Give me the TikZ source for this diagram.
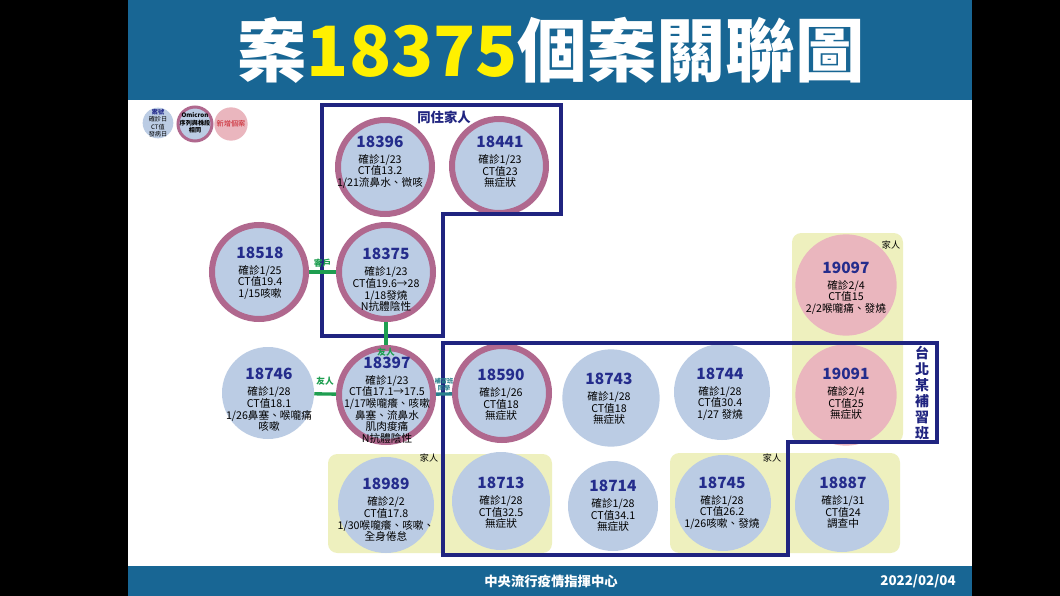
\documentclass[tikz,border=0pt]{standalone}
\usepackage{fontspec}
\setmainfont{Noto Sans CJK TC}
\usetikzlibrary{positioning}

\definecolor{bandblue}{RGB}{24,102,148}
\definecolor{casefill}{RGB}{187,204,228}
\definecolor{ringpurple}{RGB}{176,104,142}
\definecolor{newpink}{RGB}{234,182,190}
\definecolor{famyellow}{RGB}{238,240,190}
\definecolor{boxnavy}{RGB}{32,36,128}
\definecolor{numnavy}{RGB}{36,44,140}
\definecolor{linkgreen}{RGB}{30,158,80}
\definecolor{linkteal}{RGB}{40,128,140}
\definecolor{titleyellow}{RGB}{255,240,0}
\definecolor{legendred}{RGB}{200,30,40}

% case number on its own line above the details
\newcommand{\caseno}[1]{{\fontsize{11.6}{14}\selectfont\bfseries\color{numnavy}#1}\\[3.3pt]}

\begin{document}
\begin{tikzpicture}[x=0.75pt, y=-0.75pt,
    ringcase/.style={circle, fill=casefill, draw=ringpurple, line width=4.5pt, minimum size=70.5pt, inner sep=0pt},
    plaincase/.style={circle, fill=casefill, minimum size=72pt, inner sep=0pt},
    newcase/.style={circle, fill=newpink, minimum size=76pt, inner sep=0pt},
    casetext/.style={align=center, inner sep=0pt, font=\fontsize{8}{8.7}\selectfont},
    legendtext/.style={align=center, inner sep=0pt, font=\fontsize{4.6}{5.6}\selectfont},
    famzone/.style={fill=famyellow, rounded corners=7pt},
    famlabel/.style={font=\fontsize{6.8}{8}\selectfont, inner sep=0pt},
    boxline/.style={draw=boxnavy, line width=2.5pt},
    greenlink/.style={draw=linkgreen, line width=2.5pt},
    teallink/.style={draw=linkteal, line width=2.5pt},
    linklabel/.style={font=\fontsize{6.5}{7}\selectfont\bfseries, text=linkgreen, inner sep=1pt},
    bandtext/.style={font=\fontsize{10}{12}\selectfont\bfseries, text=white},
]

    % Slide, title band and footer band
    \useasboundingbox (0,0) rectangle (1060,596);
    \fill[black] (0,0) rectangle (1060,596);
    \fill[white] (128,0) rectangle (972,596);
    \fill[bandblue] (128,0) rectangle (972,100);
    \fill[bandblue] (128,566) rectangle (972,596);
    \node[font=\fontsize{52}{56}\selectfont\bfseries, text=white] (title) at (551,50) {案{\color{titleyellow}18375}個案關聯圖};
    \node[bandtext] (center) at (551,581) {中央流行疫情指揮中心};
    \node[bandtext] (date) at (918,581) {2022/02/04};

    % Legend (top left)
    \node[circle, fill=casefill, minimum size=23pt, inner sep=0pt] (lg1) at (158,123) {};
    \node[circle, fill=casefill, draw=ringpurple, line width=2.25pt, minimum size=25.5pt, inner sep=0pt] (lg2) at (195,124) {};
    \node[circle, fill=newpink, minimum size=25pt, inner sep=0pt] (lg3) at (231,124) {};
    \node[legendtext] (lgt1) at (158,123) {{\bfseries\color{numnavy}案號}\\確診日\\CT值\\發病日};
    \node[legendtext, font=\fontsize{4.6}{5.8}\selectfont\bfseries] (lgt2) at (195,123) {Omicron\\序列與株段\\相同};
    \node[legendtext, text=legendred, font=\fontsize{5.4}{6}\selectfont] (lgt3) at (231,124) {新增個案};

    % Family zones (yellow)
    \fill[famzone] (328,454) rectangle (552,553);
    \fill[famzone] (670,453) rectangle (900,553);
    \fill[famzone] (792,233) rectangle (903,443);

    % Case circles
    \node[ringcase] (c18396) at (385,167) {};
    \node[ringcase] (c18441) at (499,166) {};
    \node[ringcase] (c18518) at (259,272) {};
    \node[ringcase] (c18375) at (386,272) {};
    \node[plaincase, minimum size=69pt] (c18746) at (268,393) {};
    \node[ringcase] (c18397) at (386,395) {};
    \node[ringcase] (c18590) at (502,393) {};
    \node[plaincase, minimum size=73pt] (c18743) at (611,398) {};
    \node[plaincase] (c18744) at (722,392) {};
    \node[newcase] (c19097) at (846,285) {};
    \node[newcase] (c19091) at (846,395) {};
    \node[plaincase] (c18989) at (386,505) {};
    \node[plaincase, minimum size=73.5pt] (c18713) at (501,501) {};
    \node[plaincase, minimum size=67.5pt] (c18714) at (613,506) {};
    \node[plaincase] (c18745) at (723,503) {};
    \node[plaincase, minimum size=70.5pt] (c18887) at (842,505) {};

    % Case details
    \node[casetext] (t18396) at (380,162) {\caseno{18396}確診1/23\\CT值13.2\\1/21流鼻水、微咳};
    \node[casetext] (t18441) at (500,162) {\caseno{18441}確診1/23\\CT值23\\無症狀};
    \node[casetext] (t18518) at (260,273) {\caseno{18518}確診1/25\\CT值19.4\\1/15咳嗽};
    \node[casetext] (t18375) at (386,280) {\caseno{18375}確診1/23\\CT值19.6→28\\1/18發燒\\N抗體陰性};
    \node[casetext] (t18746) at (269,400) {\caseno{18746}確診1/28\\CT值18.1\\1/26鼻塞、喉嚨痛\\咳嗽};
    \node[casetext] (t18397) at (387,400) {\caseno{18397}確診1/23\\CT值17.1→17.5\\1/17喉嚨癢、咳嗽\\鼻塞、流鼻水\\肌肉痠痛\\N抗體陰性};
    \node[casetext] (t18590) at (501,395) {\caseno{18590}確診1/26\\CT值18\\無症狀};
    \node[casetext] (t18743) at (609,399) {\caseno{18743}確診1/28\\CT值18\\無症狀};
    \node[casetext] (t18744) at (720,394) {\caseno{18744}確診1/28\\CT值30.4\\1/27 發燒};
    \node[casetext] (t19097) at (846,288) {\caseno{19097}確診2/4\\CT值15\\2/2喉嚨痛、發燒};
    \node[casetext] (t19091) at (846,394) {\caseno{19091}確診2/4\\CT值25\\無症狀};
    \node[casetext] (t18989) at (386,510) {\caseno{18989}確診2/2\\CT值17.8\\1/30喉嚨癢、咳嗽、\\全身倦怠};
    \node[casetext] (t18713) at (501,503) {\caseno{18713}確診1/28\\CT值32.5\\無症狀};
    \node[casetext] (t18714) at (613,506) {\caseno{18714}確診1/28\\CT值34.1\\無症狀};
    \node[casetext] (t18745) at (722,503) {\caseno{18745}確診1/28\\CT值26.2\\1/26咳嗽、發燒};
    \node[casetext] (t18887) at (843,503) {\caseno{18887}確診1/31\\CT值24\\調查中};

    % Family labels
    \node[famlabel] (fam1) at (429,458) {家人};
    \node[famlabel] (fam2) at (772,458) {家人};
    \node[famlabel] (fam3) at (891,245) {家人};

    % Household box and cram school box
    \draw[boxline] (322,105) -- (561,105) -- (561,214) -- (443,214) -- (443,336) -- (322,336) -- cycle;
    \draw[boxline, line width=3pt] (443,343) -- (937,343) -- (937,442) -- (788,442) -- (788,555) -- (443,555) -- cycle;
    \node[font=\fontsize{10}{12}\selectfont\bfseries, text=boxnavy] (home) at (444,117) {同住家人};
    \node[align=center, font=\fontsize{10.5}{12}\selectfont\bfseries, text=boxnavy, inner sep=0pt] (cram) at (922,393) {台\\北\\某\\補\\習\\班};

    % Contacts between cases
    \draw[greenlink] (c18518) -- (c18375) node[midway, above=1pt, linklabel] {客戶};
    \draw[greenlink] (c18375) -- (c18397) node[at end, below=0pt, linklabel] {友人};
    \draw[greenlink] (c18746) -- (c18397) node[midway, above=4pt, linklabel] {友人};
    \draw[teallink] (c18397) -- (c18590) node[midway, above=0pt, linklabel, text=linkteal, align=center, font=\fontsize{4.6}{5.2}\selectfont\bfseries] {補習班\\同學};

\end{tikzpicture}
\end{document}
